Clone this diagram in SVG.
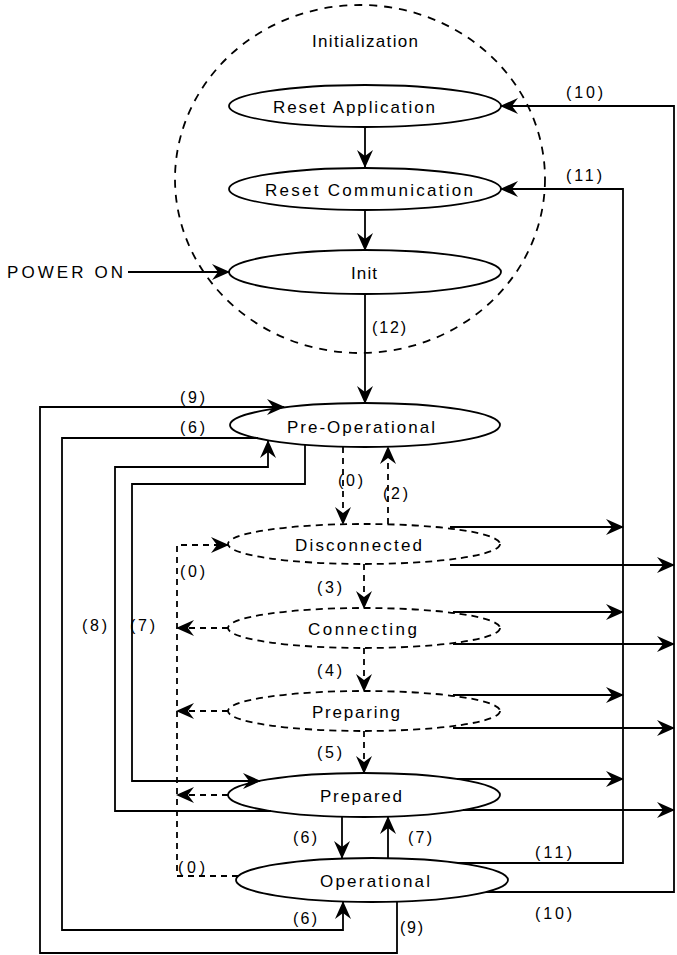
<svg xmlns="http://www.w3.org/2000/svg" width="677" height="955" viewBox="0 0 677 955">
<defs>
<marker id="a" viewBox="0 0 18 16" refX="17" refY="8" markerWidth="18" markerHeight="16" markerUnits="userSpaceOnUse" orient="auto"><path d="M0,0 L18,8 L0,16 L6,8 Z" fill="#000"/></marker>
<style>
.s{fill:#fff;stroke:#000;stroke-width:1.8}
.d{fill:#fff;stroke:#000;stroke-width:1.8;stroke-dasharray:7 5}
.c{fill:none;stroke:#000;stroke-width:1.8}
.cd{fill:none;stroke:#000;stroke-width:1.8;stroke-dasharray:6 5}
.ar{marker-end:url(#a)}
text{font-family:"Liberation Sans",Arial,sans-serif;fill:#000}
.t{font-size:17px}
.l{font-size:16px}
</style>
</defs>
<rect width="677" height="955" fill="#fff"/>
<g id="initialization">
<ellipse cx="360" cy="179" rx="185" ry="174" fill="none" stroke="#000" stroke-width="1.8" stroke-dasharray="8 7"/>
<text class="t" x="312" y="47" textLength="106" lengthAdjust="spacing">Initialization</text>
</g>
<g id="reset-application"><ellipse class="s" cx="365" cy="106" rx="136" ry="21"/><text class="t" x="273" y="113" textLength="162" lengthAdjust="spacing">Reset Application</text></g>
<g id="reset-communication"><ellipse class="s" cx="365" cy="189" rx="136" ry="21"/><text class="t" x="265" y="196" textLength="208" lengthAdjust="spacing">Reset Communication</text></g>
<g id="init"><ellipse class="s" cx="365" cy="272" rx="136" ry="22"/><text class="t" x="351" y="279" textLength="26" lengthAdjust="spacing">Init</text></g>
<g id="pre-operational"><ellipse class="s" cx="365" cy="425" rx="135" ry="22"/><text class="t" x="287" y="433" textLength="148" lengthAdjust="spacing">Pre-Operational</text></g>
<g id="disconnected"><ellipse class="d" cx="364" cy="544" rx="136" ry="20"/><text class="t" x="295" y="551" textLength="127" lengthAdjust="spacing">Disconnected</text></g>
<g id="connecting"><ellipse class="d" cx="364" cy="628" rx="136" ry="20"/><text class="t" x="308" y="635" textLength="109" lengthAdjust="spacing">Connecting</text></g>
<g id="preparing"><ellipse class="d" cx="364" cy="711" rx="136" ry="20"/><text class="t" x="312" y="718" textLength="88" lengthAdjust="spacing">Preparing</text></g>
<g id="prepared"><ellipse class="s" cx="364" cy="795" rx="136" ry="22"/><text class="t" x="320" y="802" textLength="82" lengthAdjust="spacing">Prepared</text></g>
<g id="operational"><ellipse class="s" cx="372" cy="880" rx="136" ry="22"/><text class="t" x="320" y="887" textLength="110" lengthAdjust="spacing">Operational</text></g>
<g id="power-on"><text class="t" x="7" y="278" textLength="116" lengthAdjust="spacing">POWER ON</text></g>
<g id="connectors">
<path class="c ar" d="M365,127 V167"/>
<path class="c ar" d="M365,210 V250"/>
<path class="c ar" d="M128,272 H229"/>
<path class="c ar" d="M365,294 V403"/>
<path class="c ar" d="M486,892 H674 V106 H501"/>
<path class="c ar" d="M458,863 H623 V189 H501"/>
<path class="c ar" d="M450,527 H623"/>
<path class="c ar" d="M453,612 H623"/>
<path class="c ar" d="M453,695 H623"/>
<path class="c ar" d="M457,779 H623"/>
<path class="c ar" d="M450,565 H674"/>
<path class="c ar" d="M453,644 H674"/>
<path class="c ar" d="M453,728 H674"/>
<path class="c ar" d="M463,810 H674"/>
<path class="c ar" d="M397,902 V953 H40 V407 H284"/>
<path class="c ar" d="M258,438 H62 V930 H343 V902"/>
<path class="c ar" d="M271,811 H115 V467 H268 V441"/>
<path class="c ar" d="M305,445 V484 H132 V781 H260"/>
<path class="cd ar" d="M343,447 V524"/>
<path class="cd ar" d="M388,524 V447"/>
<path class="cd ar" d="M238,876 H177 V545 H228"/>
<path class="cd ar" d="M228,628 H177"/>
<path class="cd ar" d="M228,711 H177"/>
<path class="cd ar" d="M228,795 H177"/>
<path class="cd ar" d="M364,564 V608"/>
<path class="cd ar" d="M364,648 V691"/>
<path class="cd ar" d="M364,731 V773"/>
<path class="c ar" d="M342,817 V858"/>
<path class="c ar" d="M388,858 V817"/>
<g id="labels">
<text class="l" x="372" y="333" textLength="34" lengthAdjust="spacing">(12)</text>
<text class="l" x="566" y="98" textLength="37" lengthAdjust="spacing">(10)</text>
<text class="l" x="566" y="181" textLength="36" lengthAdjust="spacing">(11)</text>
<text class="l" x="180" y="403" textLength="25" lengthAdjust="spacing">(9)</text>
<text class="l" x="180" y="433" textLength="25" lengthAdjust="spacing">(6)</text>
<text class="l" x="338" y="486" textLength="25" lengthAdjust="spacing">(0)</text>
<text class="l" x="383" y="499" textLength="25" lengthAdjust="spacing">(2)</text>
<text class="l" x="180" y="577" textLength="25" lengthAdjust="spacing">(0)</text>
<text class="l" x="82" y="631" textLength="25" lengthAdjust="spacing">(8)</text>
<text class="l" x="130" y="631" textLength="25" lengthAdjust="spacing">(7)</text>
<text class="l" x="317" y="593" textLength="25" lengthAdjust="spacing">(3)</text>
<text class="l" x="317" y="676" textLength="25" lengthAdjust="spacing">(4)</text>
<text class="l" x="317" y="758" textLength="25" lengthAdjust="spacing">(5)</text>
<text class="l" x="293" y="843" textLength="24" lengthAdjust="spacing">(6)</text>
<text class="l" x="408" y="843" textLength="24" lengthAdjust="spacing">(7)</text>
<text class="l" x="178" y="873" textLength="27" lengthAdjust="spacing">(0)</text>
<text class="l" x="293" y="924" textLength="24" lengthAdjust="spacing">(6)</text>
<text class="l" x="400" y="933" textLength="23" lengthAdjust="spacing">(9)</text>
<text class="l" x="535" y="858" textLength="37" lengthAdjust="spacing">(11)</text>
<text class="l" x="535" y="919" textLength="37" lengthAdjust="spacing">(10)</text>
</g>
</g>
</svg>
